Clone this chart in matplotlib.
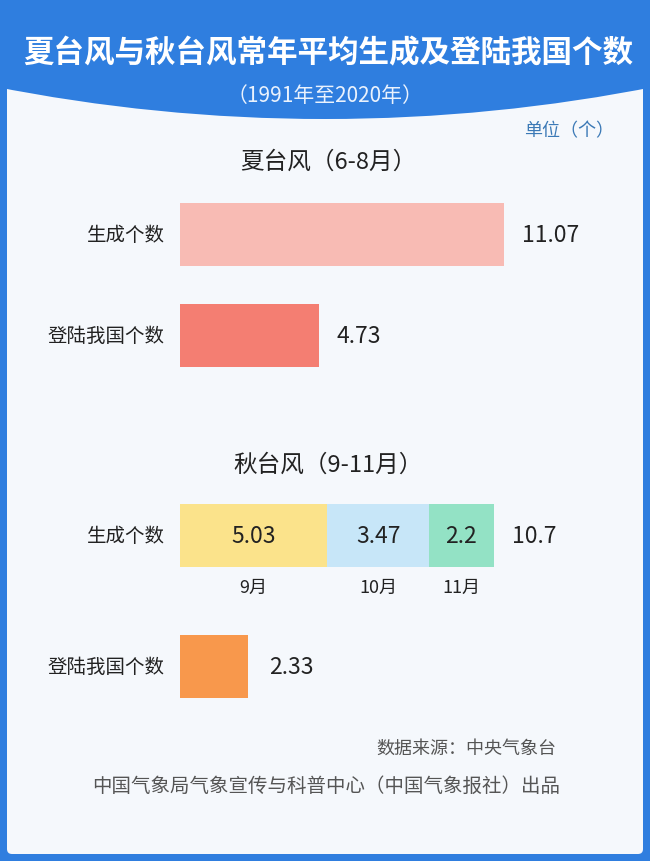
import matplotlib
matplotlib.use("Agg")
import matplotlib.pyplot as plt
import matplotlib.patches as mpatches

plt.rcParams['font.family'] = ['Noto Sans CJK SC', 'DejaVu Sans']

# data
categories = ['生成个数', '登陆我国个数']
summer_values = [11.07, 4.73]
autumn_months = ['9月', '10月', '11月']
autumn_month_values = [5.03, 3.47, 2.2]
autumn_total = 10.7
autumn_landing = 2.33

summer_colors = ['#F8BBB4', '#F47E72']
month_colors = ['#FBE38B', '#C7E6F8', '#93E2C5']
landing_color = '#F8984C'
blue = '#2F7EDF'
panel = '#F5F8FC'
text_color = '#222222'

W, H = 650, 862
fig = plt.figure(figsize=(W / 100, H / 100), dpi=100)
fig.patch.set_facecolor(blue)

# background in pixel coordinates
bg = fig.add_axes([0, 0, 1, 1])
bg.set_xlim(0, W)
bg.set_ylim(H, 0)
bg.axis('off')
bg.add_patch(mpatches.FancyBboxPatch((7, 40), 636, 815, boxstyle='round,pad=0,rounding_size=5',
                                     facecolor=panel, edgecolor='none'))
bg.add_patch(mpatches.Rectangle((0, 0), W, 60, facecolor=blue, edgecolor='none'))
bg.add_patch(mpatches.Circle((325, 120 - 1700), 1700, facecolor=blue, edgecolor='none'))

bg.text(328, 53, '夏台风与秋台风常年平均生成及登陆我国个数', ha='center', va='center',
        fontsize=22, fontweight='bold', color='white')
bg.text(325, 96, '（1991年至2020年）', ha='center', va='center', fontsize=15, color='#EAF2FD')
bg.text(614, 131, '单位（个）', ha='right', va='center', fontsize=13, color='#3B79B6')
bg.text(328, 162, '夏台风（6-8月）', ha='center', va='center', fontsize=17, color=text_color)
bg.text(328, 465, '秋台风（9-11月）', ha='center', va='center', fontsize=17, color=text_color)
bg.text(556, 749, '数据来源：中央气象台', ha='right', va='center', fontsize=13, color='#555555')
bg.text(560, 786, '中国气象局气象宣传与科普中心（中国气象报社）出品', ha='right', va='center',
        fontsize=14, color='#555555')

px_per_unit = 29.3
x_max = 460 / px_per_unit


def make_axes(top, spacing):
    # bar centres at 0 and 1, spacing in pixels
    ax_top = top - spacing / 2
    ax_h = 2 * spacing
    ax = fig.add_axes([180 / W, 1 - (ax_top + ax_h) / H, 460 / W, ax_h / H])
    ax.set_xlim(0, x_max)
    ax.set_ylim(1.5, -0.5)
    ax.axis('off')
    return ax


# summer
ax1 = make_axes(235.5, 101)
h1 = 63 / 101
ax1.barh([0, 1], summer_values, height=h1, color=summer_colors)
for i, (cat, v) in enumerate(zip(categories, summer_values)):
    ax1.annotate(cat, (0, i), xytext=(-11, 0), textcoords='offset points',
                 ha='right', va='center', fontsize=14, color=text_color)
    ax1.annotate(str(v), (v, i), xytext=(13, 0), textcoords='offset points',
                 ha='left', va='center', fontsize=16.5, color=text_color)

# autumn
ax2 = make_axes(536.5, 131)
h2 = 63 / 131
left = 0
for m, v, c in zip(autumn_months, autumn_month_values, month_colors):
    ax2.barh(0, v, left=left, height=h2, color=c)
    ax2.text(left + v / 2, 0, str(v), ha='center', va='center', fontsize=16.5, color=text_color)
    ax2.annotate(m, (left + v / 2, h2 / 2), xytext=(0, -14), textcoords='offset points',
                 ha='center', va='center', fontsize=13, color=text_color)
    left += v
ax2.barh(1, autumn_landing, height=h2, color=landing_color)
ax2.annotate(str(autumn_total), (left, 0), xytext=(13, 0), textcoords='offset points',
             ha='left', va='center', fontsize=16.5, color=text_color)
ax2.annotate(str(autumn_landing), (autumn_landing, 1), xytext=(15, 0), textcoords='offset points',
             ha='left', va='center', fontsize=16.5, color=text_color)
for i, cat in enumerate(categories):
    ax2.annotate(cat, (0, i), xytext=(-11, 0), textcoords='offset points',
                 ha='right', va='center', fontsize=14, color=text_color)

fig.savefig('out.png', dpi=100, facecolor=fig.get_facecolor())
